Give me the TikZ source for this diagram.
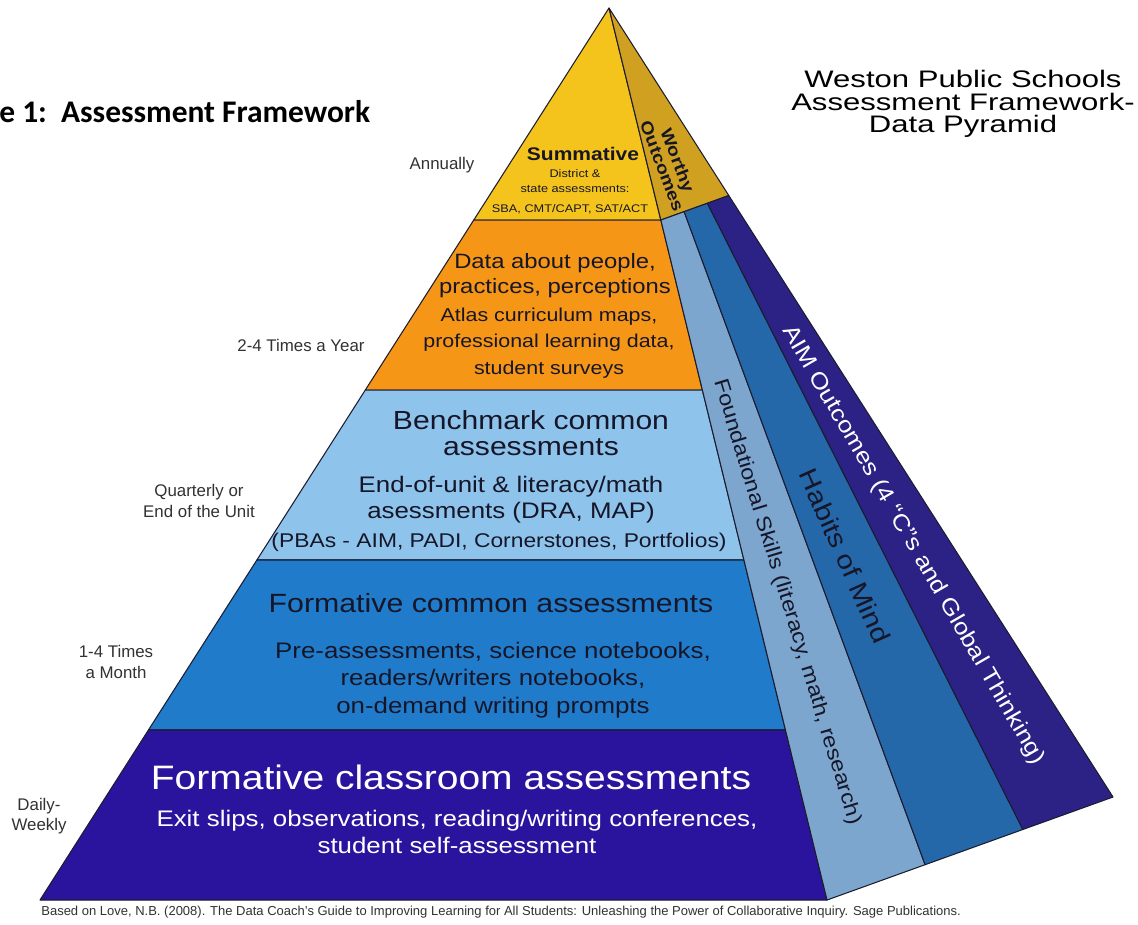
\documentclass[tikz,border=0pt]{standalone}
\usepackage{fontspec}
\setmainfont{Liberation Sans}
\newfontfamily\widesf[FakeStretch=1.15]{Liberation Sans}
\newfontfamily\headsf[FakeStretch=1.3]{Liberation Sans}
\newfontfamily\figsf{Carlito}
\usetikzlibrary{calc}

\definecolor{summitgold}{RGB}{245,196,28}
\definecolor{worthygold}{RGB}{208,160,32}
\definecolor{perceptorange}{RGB}{246,150,22}
\definecolor{benchblue}{RGB}{142,196,236}
\definecolor{commonblue}{RGB}{32,124,202}
\definecolor{classblue}{RGB}{42,20,158}
\definecolor{skillsblue}{RGB}{124,166,206}
\definecolor{habitsblue}{RGB}{36,104,170}
\definecolor{aimblue}{RGB}{44,34,134}
\definecolor{edge}{RGB}{28,28,48}
\definecolor{inktext}{RGB}{22,22,40}
\definecolor{sidetext}{RGB}{50,50,50}

\newcommand{\fsz}[2]{\fontsize{#1}{#2}\selectfont}

\begin{document}
\begin{tikzpicture}
  [x=0.02cm, y=-0.02cm,
   layer/.style={draw=edge, line width=0.6pt, line join=round},
   tier/.style={align=center, inner sep=0pt, text=inktext},
   freq/.style={align=center, inner sep=0pt, text=sidetext, font=\fsz{9.6pt}{11.6pt}},
   band/.style={align=center, inner sep=0pt}]

  \useasboundingbox (0,0) rectangle (1138,924);
  \fill[white] (0,0) rectangle (1138,924);

  % pyramid corners and the feet of the side bands
  \coordinate (apex) at (609,8);
  \coordinate (bl) at (40,900);
  \coordinate (br) at (827,900);
  \coordinate (sr) at (1113,797);
  \coordinate (s1) at ($(br)!0.343!(sr)$);
  \coordinate (s2) at ($(br)!0.685!(sr)$);

  % front face, top down
  \foreach \ta/\tb/\col in {0/0.2377/summitgold, 0.2377/0.4283/perceptorange,
      0.4283/0.6188/benchblue, 0.6188/0.8094/commonblue, 0.8094/1/classblue}
    \filldraw[layer, fill=\col] ($(apex)!\ta!(bl)$) -- ($(apex)!\tb!(bl)$)
      -- ($(apex)!\tb!(br)$) -- ($(apex)!\ta!(br)$) -- cycle;

  % side face
  \filldraw[layer, fill=worthygold] (apex) -- ($(apex)!0.2377!(br)$)
    -- ($(apex)!0.2377!(sr)$) -- cycle;
  \foreach \pa/\pb/\col in {br/s1/skillsblue, s1/s2/habitsblue, s2/sr/aimblue}
    \filldraw[layer, fill=\col] ($(apex)!0.2377!(\pa)$) -- (\pa) -- (\pb)
      -- ($(apex)!0.2377!(\pb)$) -- cycle;

  \node[tier, font=\widesf\bfseries\fsz{10.4pt}{12pt}] (summative) at (583,154) {Summative};
  \node[tier, font=\widesf\fsz{6.3pt}{9pt}] (district) at (575,181) {District \&\\state assessments:};
  \node[tier, font=\widesf\fsz{6.3pt}{9pt}] (sba) at (570,209) {SBA, CMT/CAPT, SAT/ACT};

  \node[tier, font=\widesf\fsz{11.8pt}{14.2pt}] (people) at (555,276) {Data about people,\\practices, perceptions};
  \node[tier, font=\widesf\fsz{10.6pt}{14.9pt}] (atlas) at (549,343) {Atlas curriculum maps,\\professional learning data,\\student surveys};

  \node[tier, font=\widesf\fsz{14.9pt}{14.8pt}] (benchmark) at (531,433) {Benchmark common\\assessments};
  \node[tier, font=\widesf\fsz{12.8pt}{14.8pt}] (endunit) at (511,500) {End-of-unit \& literacy/math\\asessments (DRA, MAP)};
  \node[tier, font=\widesf\fsz{11.3pt}{13pt}] (pbas) at (499,542) {(PBAs - AIM, PADI, Cornerstones, Portfolios)};

  \node[tier, font=\widesf\fsz{15pt}{17pt}] (common) at (491,603) {Formative common assessments};
  \node[tier, font=\widesf\fsz{12.8pt}{15.6pt}] (preassess) at (493,680) {Pre-assessments, science notebooks,\\readers/writers notebooks,\\on-demand writing prompts};

  \node[tier, text=white, font=\widesf\fsz{19.3pt}{22pt}] (classroom) at (451,777) {Formative classroom assessments};
  \node[tier, text=white, font=\widesf\fsz{12.8pt}{15.3pt}] (exitslips) at (457,832) {Exit slips, observations, reading/writing conferences,\\student self-assessment};

  % labels running down the side bands
  \node[band, rotate=-69, text=inktext, font=\widesf\bfseries\fsz{9.6pt}{9.4pt}] (worthy) at (670,163) {Worthy\\Outcomes};
  \node[band, rotate=-73, text=inktext, font=\widesf\fsz{11.7pt}{14pt}] (skills) at (787,602) {Foundational Skills (literacy, math, research)};
  \node[band, rotate=-66, text=inktext, font=\widesf\fsz{14.6pt}{16pt}] (habits) at (845,556) {Habits of Mind};
  \node[band, rotate=-60, text=white, font=\widesf\fsz{12.8pt}{15pt}] (aim) at (913,545) {AIM Outcomes (4 “C”s and Global Thinking)};

  % how often
  \node[freq] (annually) at (442,165) {Annually};
  \node[freq] (yearly) at (301,345) {2-4 Times a Year};
  \node[freq] (quarterly) at (199,501) {Quarterly or\\End of the Unit};
  \node[freq] (monthly) at (116,662) {1-4 Times\\a Month};
  \node[freq] (daily) at (39,816) {Daily-\\Weekly};

  \node[align=center, inner sep=0pt, font=\headsf\fsz{13.6pt}{12.9pt}] (weston) at (963,104) {Weston Public Schools\\Assessment Framework-\\Data Pyramid};
  \node[anchor=base west, inner sep=0pt, font=\figsf\bfseries\fsz{17.9pt}{20pt}] (figtitle) at (-1,122) {e 1:\ \ Assessment Framework};

  \node[anchor=west, inner sep=0pt, text=sidetext, font=\fsz{7.4pt}{8pt}] (source) at (41,912) {Based on Love, N.B. (2008). The Data Coach's Guide to Improving Learning for All Students: Unleashing the Power of Collaborative Inquiry. Sage Publications.};
\end{tikzpicture}
\end{document}
